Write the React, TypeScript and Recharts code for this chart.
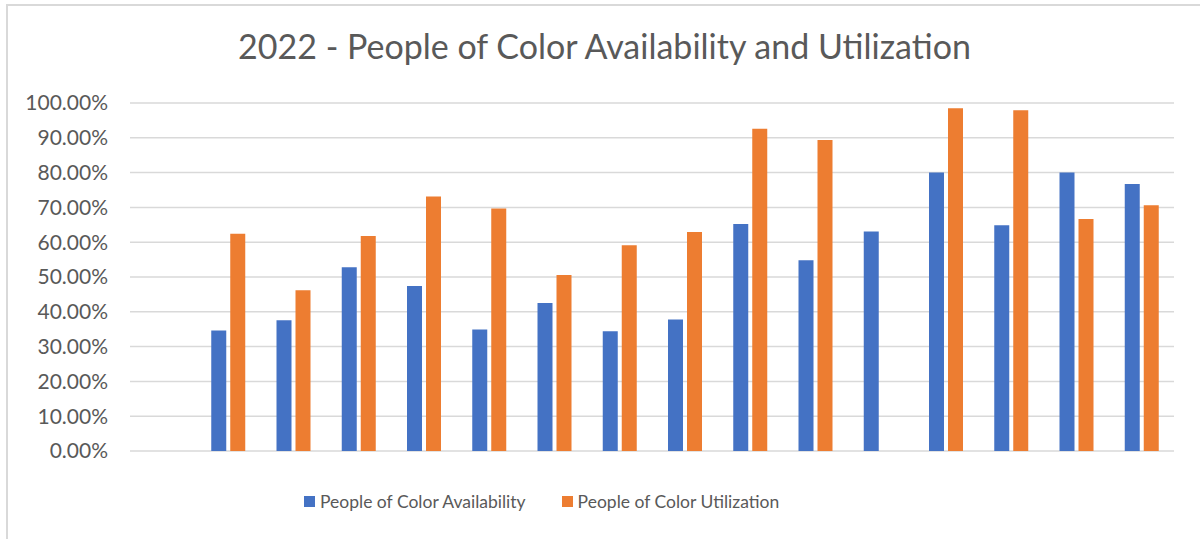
import { BarChart, Bar, XAxis, YAxis, CartesianGrid, Legend } from 'recharts';

const categories = [
  'Group 1', 'Group 2', 'Group 3', 'Group 4', 'Group 5', 'Group 6', 'Group 7', 'Group 8',
  'Group 9', 'Group 10', 'Group 11', 'Group 12', 'Group 13', 'Group 14', 'Group 15', 'Group 16',
];

// percent values; first group has no data
const availability = [null, 34.6, 37.6, 52.8, 47.4, 34.9, 42.5, 34.4, 37.8, 65.2, 54.8, 63.1, 80.0, 64.9, 80.0, 76.7];
const utilization = [null, 62.4, 46.2, 61.8, 73.1, 69.7, 50.6, 59.1, 62.9, 92.6, 89.4, null, 98.5, 97.9, 66.7, 70.6];

const yTicks = [0, 10, 20, 30, 40, 50, 60, 70, 80, 90, 100];

const FONT = 'Lato, "Open Sans", sans-serif';
const TEXT = '#595959';

const data = categories.map((name, i) => ({
  name,
  availability: availability[i],
  utilization: utilization[i],
}));

function LegendContent({ payload }: any) {
  return (
    <div style={{ display: 'flex', alignItems: 'center', gap: 36, paddingLeft: 304 }}>
      {(payload || []).map((item: any) => (
        <div key={item.value} style={{ display: 'flex', alignItems: 'center' }}>
          <span style={{ width: 11, height: 11, background: item.color, marginRight: 5, display: 'inline-block' }} />
          <span style={{ fontFamily: FONT, fontSize: 17.5, color: TEXT }}>{item.value}</span>
        </div>
      ))}
    </div>
  );
}

export default function App() {
  return (
    <div style={{ position: 'absolute', left: 0, top: 0, width: 1200, height: 539, background: '#fff' }}>
      <div
        style={{
          position: 'absolute', left: 6, top: 4, width: 1194, height: 535,
          borderLeft: '2px solid #d9d9d9', borderTop: '2px solid #d9d9d9',
        }}
      />
      <div
        style={{
          position: 'absolute', left: 0, top: 25, width: 1209, textAlign: 'center',
          fontFamily: FONT, fontSize: 34, color: TEXT,
        }}
      >
        2022 - People of Color Availability and Utilization
      </div>
      <div style={{ position: 'absolute', left: 0, top: 0 }}>
        <BarChart
          width={1200}
          height={539}
          data={data}
          margin={{ top: 103, right: 26, bottom: 88, left: 0 }}
          barCategoryGap={16}
          barGap={4}
        >
          <CartesianGrid vertical={false} stroke="#d9d9d9" strokeWidth={1.5} />
          <XAxis dataKey="name" hide />
          <YAxis
            width={130}
            domain={[0, 100]}
            ticks={yTicks}
            interval={0}
            axisLine={false}
            tickLine={false}
            tickSize={0}
            tickMargin={22}
            tickFormatter={(v: number) => `${v.toFixed(2)}%`}
            tick={{ fontFamily: FONT, fontSize: 21, fill: TEXT }}
          />
          <Legend
            layout="horizontal"
            verticalAlign="middle"
            align="center"
            wrapperStyle={{ top: 491, left: 0, width: 1200 }}
            content={<LegendContent />}
          />
          <Bar dataKey="availability" name="People of Color Availability" fill="#4472c4" isAnimationActive={false} />
          <Bar dataKey="utilization" name="People of Color Utilization" fill="#ed7d31" isAnimationActive={false} />
        </BarChart>
      </div>
    </div>
  );
}
